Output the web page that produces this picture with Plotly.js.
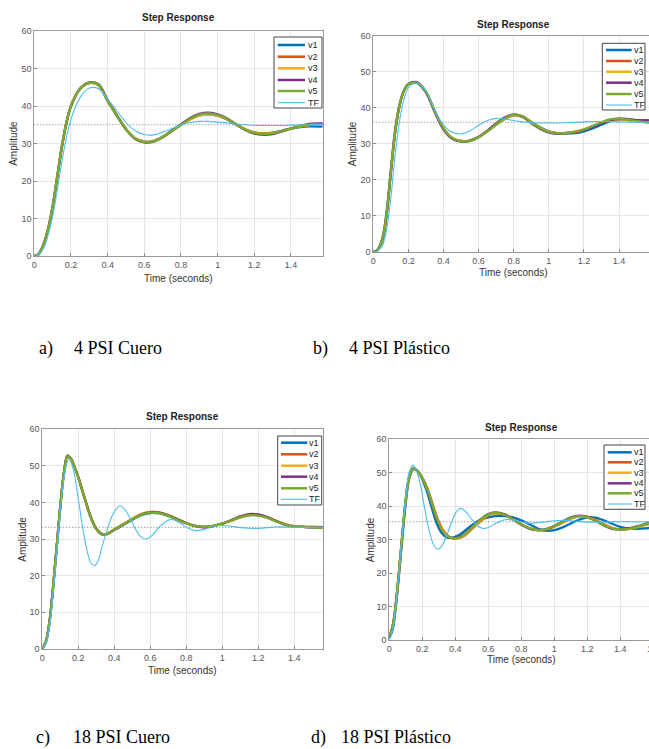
<!DOCTYPE html>
<html><head><meta charset="utf-8">
<script src="https://cdn.plot.ly/plotly-3.0.1.min.js"></script>
<style>
html,body{margin:0;padding:0;overflow:hidden;background:#fff;width:649px;height:749px}
#fig{width:660px;height:749px}
</style>
</head><body><div id="fig"></div>
<script>
// ---------- labels ----------
const seriesNames = ['v1','v2','v3','v4','v5','TF'];
const seriesColors = ['#0072BD','#D95319','#EDB120','#7E2F8E','#77AC30','#4DBEEE'];
const panelTitle = 'Step Response';
const xAxisLabel = 'Time (seconds)';
const yAxisLabel = 'Amplitude';
const captionLetters = ['a)','b)','c)','d)'];
const captionTexts = ['4 PSI Cuero','4 PSI Plástico','18 PSI Cuero','18 PSI Plástico'];
const steadyState = [35, 36, 33.2, 35.3];
const xTicks = [0,0.2,0.4,0.6,0.8,1,1.2,1.4,1.6];
const yTicks = [0,10,20,30,40,50,60];

// ---------- a) 4 PSI Cuero ----------
const tA = [0,0.02,0.05,0.075,0.1,0.125,0.15,0.175,0.2,0.25,0.3,0.35,0.4,0.45,0.5,0.55,0.6,0.65,0.7,0.75,0.8,0.85,0.9,0.95,1.0,1.05,1.1,1.15,1.2,1.25,1.3,1.35,1.4,1.45,1.5,1.573];
const aV1 = [0,0.3,3.2,7.3,13.3,21.3,29.2,35.6,40,44.6,46.1,45.5,41.3,37.4,33.8,31.4,30.5,30.7,31.8,33.4,35,36.5,37.5,37.8,37.4,36.5,35.1,33.8,33,32.7,32.9,33.4,34,34.4,34.6,34.5];
const aV2 = [0,0.3,3.1,7.2,13.2,21.2,29.2,35.6,40.1,44.7,46.2,45.6,41.4,37.5,33.8,31.3,30.4,30.6,31.7,33.3,35,36.5,37.6,37.9,37.5,36.5,35.1,33.8,32.9,32.6,32.8,33.3,34,34.6,35,35.1];
const aV3 = [0,0.3,3,7.1,13.1,21.1,29,35.5,40,44.6,46.1,45.6,41.4,37.5,33.9,31.4,30.5,30.7,31.7,33.3,34.9,36.4,37.4,37.7,37.4,36.5,35.1,33.8,32.9,32.6,32.8,33.2,33.9,34.5,34.9,35.1];
const aV4 = [0,0.3,2.9,6.9,12.9,20.8,28.8,35.3,39.9,44.6,46.3,45.8,41.6,37.6,33.8,31.2,30.3,30.5,31.7,33.4,35.1,36.8,37.9,38.2,37.8,36.7,35.1,33.6,32.6,32.3,32.5,33.2,34,34.7,35.2,35.4];
const aV5 = [0,0.3,3,7,13,21,29,35.5,40,44.6,46.2,45.7,41.4,37.5,33.8,31.3,30.4,30.6,31.7,33.3,35,36.6,37.7,38,37.6,36.6,35.1,33.7,32.8,32.5,32.7,33.3,34,34.6,35,35.2];
const tAtf = tA;
const aTF = [0,0.2,2,5.5,10.5,17.5,25,31.5,36.5,42.3,44.8,44.6,41.8,38.8,35.6,33.4,32.4,32.3,33,34,35,35.6,35.9,35.9,35.7,35.5,35.2,35,34.8,34.8,34.8,34.8,34.9,34.9,35,35];

// ---------- b) 4 PSI Plástico ----------
const tB = [0,0.02,0.05,0.075,0.1,0.125,0.15,0.175,0.2,0.235,0.25,0.3,0.35,0.4,0.45,0.5,0.55,0.6,0.65,0.7,0.75,0.8,0.85,0.9,0.95,1.0,1.05,1.1,1.15,1.2,1.25,1.3,1.35,1.4,1.45,1.5,1.55,1.6];
const bV1 = [0,0.3,3.5,10.8,22.8,34,41,44.9,46.6,47,46.9,44.3,39,34.2,31.6,30.8,30.9,31.9,33.5,35.3,36.9,37.9,37.6,36.1,34.6,33.5,33,32.9,33,33.5,34.3,35.3,36.3,36.8,36.8,36.6,36.5,36.4];
const bV2 = [0,0.2,3.2,10.3,22.3,33.8,40.9,44.8,46.6,47.1,47,44.4,39.1,34.3,31.6,30.8,30.9,31.9,33.6,35.5,37.2,38,37.5,35.9,34.4,33.4,33,33.1,33.4,34,34.9,35.9,36.6,36.9,36.7,36.4,36.2,36.1];
const bV3 = [0,0.2,3.1,10.1,22.1,33.6,40.8,44.8,46.6,47.1,47,44.5,39.2,34.4,31.7,30.8,30.9,31.9,33.6,35.4,37,37.9,37.6,36,34.5,33.4,32.9,33,33.3,33.9,34.9,35.9,36.7,36.9,36.7,36.3,36.1,36];
const bV4 = [0,0.2,2.9,9.8,21.8,33.3,40.7,44.8,46.7,47.2,47.1,44.4,38.9,34,31.4,30.6,30.8,31.9,33.7,35.7,37.4,38.2,37.6,35.8,34.2,33.1,32.8,32.9,33.2,33.8,34.7,35.7,36.6,37,36.9,36.6,36.5,36.5];
const bV5 = [0,0.2,3,10,22,33.5,40.8,44.8,46.6,47.1,47,44.5,39.2,34.3,31.6,30.7,30.8,31.8,33.5,35.4,37.1,38.1,37.7,36,34.4,33.3,32.9,33,33.3,34,35,36,36.8,37,36.7,36.3,36,35.8];
const tBtf = tB;
const bTF = [0,0.1,1.5,6,15,27,36.5,42.5,45.6,46.9,46.9,44.6,39.5,35.3,33.2,32.8,33.6,35.2,36.5,37.1,36.9,36.5,36.1,35.9,35.8,35.8,35.8,35.9,36,36.1,36.2,36.2,36.2,36.1,36.1,36.1,36.1,36.1];

// ---------- c) 18 PSI Cuero ----------
const tC = [0,0.02,0.04,0.06,0.08,0.1,0.12,0.14,0.16,0.18,0.2,0.22,0.24,0.26,0.28,0.3,0.33,0.36,0.4,0.45,0.5,0.55,0.6,0.65,0.7,0.75,0.8,0.85,0.9,0.95,1.0,1.05,1.1,1.15,1.2,1.25,1.3,1.35,1.4,1.45,1.5,1.557];
const cV1 = [0,1.8,7,16.5,27.5,38.5,47.8,52.6,51.8,49.6,46.9,43.6,40.4,37.3,34.7,32.8,31.4,31.4,32.5,33.9,35.3,36.5,37.1,37,36.3,35.3,34.3,33.6,33.4,33.6,34.2,35,35.9,36.5,36.5,35.9,34.9,34,33.5,33.3,33.2,33.1];
const cV2 = [0,2,7.4,16.9,27.9,39,48,52.8,51.9,49.6,46.9,43.6,40.4,37.3,34.7,32.8,31.3,31.4,32.6,34,35.5,36.8,37.4,37.3,36.5,35.4,34.3,33.5,33.2,33.5,34.2,35.1,36.1,36.7,36.6,35.9,34.9,33.9,33.4,33.3,33.3,33.2];
const cV3 = [0,1.9,7.3,16.8,27.8,38.9,48,52.8,51.9,49.6,46.9,43.6,40.4,37.3,34.7,32.8,31.4,31.5,32.7,34.1,35.6,36.8,37.4,37.3,36.6,35.5,34.4,33.6,33.3,33.5,34.1,35,35.9,36.5,36.5,35.9,35,34.1,33.5,33.4,33.4,33.3];
const cV4 = [0,2,7.5,17,28,39.1,48.1,52.8,51.9,49.6,46.9,43.6,40.4,37.3,34.7,32.8,31.3,31.3,32.5,33.9,35.4,36.7,37.3,37.2,36.5,35.4,34.3,33.5,33.2,33.5,34.2,35.2,36.2,36.8,36.7,36,34.9,33.9,33.4,33.3,33.2,33.2];
const cV5 = [0,2,7.5,17,28,39,48,52.7,51.8,49.5,46.8,43.5,40.3,37.2,34.6,32.7,31.3,31.4,32.6,34,35.4,36.6,37.2,37.1,36.4,35.3,34.3,33.5,33.3,33.6,34.2,35.1,36,36.5,36.4,35.8,34.8,33.9,33.4,33.3,33.2,33];
const tCtf = [0,0.02,0.04,0.06,0.08,0.1,0.12,0.147,0.17,0.2,0.225,0.25,0.27,0.29,0.31,0.33,0.36,0.39,0.43,0.46,0.5,0.54,0.576,0.61,0.65,0.71,0.76,0.8,0.85,0.9,0.95,1.0,1.05,1.1,1.2,1.3,1.4,1.5,1.557];
const cTF = [0,1.5,6,15,26,37.5,46.5,51.9,49.5,41,33,26.5,23.5,22.7,24,27.5,32.5,36.5,39.1,38,34.5,31,30,31,33.3,35.3,34.6,33.2,32.3,32.6,33.4,33.7,33.5,33.1,32.9,33.3,33.2,33.2,33.2];

// ---------- d) 18 PSI Plástico ----------
const tD = [0,0.02,0.04,0.06,0.08,0.1,0.12,0.145,0.17,0.2,0.23,0.26,0.29,0.32,0.35,0.38,0.41,0.45,0.5,0.55,0.6,0.64,0.7,0.75,0.8,0.85,0.9,0.95,1.0,1.05,1.1,1.15,1.2,1.25,1.3,1.35,1.4,1.45,1.5,1.55,1.6];
const dV1 = [0.5,3,10,20,31,41,48,51,50.5,48,44,39,34.5,31.8,30.6,30.5,31,32.3,34.3,35.8,36.6,37,37,36.6,35.7,34.5,33.3,32.6,32.8,33.6,34.8,35.9,36.6,36.5,35.7,34.7,33.8,33.3,33.2,33.3,33.6];
const dV2 = [1,4,11,21,32,42,48.5,51.3,50.6,48.5,45.3,41,36.6,33.3,31.3,30.5,30.3,31,33,35.3,37.2,37.8,37.4,36.1,34.6,33.4,32.8,32.9,33.8,35,36.2,36.9,36.8,35.9,34.6,33.5,33,33.1,33.6,34.3,35];
const dV3 = [1,4,11,21,32,42,48.5,51.3,50.6,48.4,45.1,40.7,36.3,33,31.1,30.4,30.3,31.1,33.2,35.5,37.3,37.9,37.4,36,34.5,33.3,32.8,33,33.9,35.1,36.3,36.9,36.7,35.7,34.4,33.4,33,33.1,33.7,34.4,35.1];
const dV4 = [1,4,11,21,32,42,48.5,51.3,50.5,48.3,45,40.4,35.8,32.6,30.9,30.4,30.5,31.4,33.6,35.9,37.6,38.1,37.5,36,34.4,33.2,32.8,33.1,34.1,35.4,36.6,37.1,36.7,35.6,34.2,33.2,33,33.3,33.9,34.7,35.4];
const dV5 = [1,4,11,21,32,42,48.5,51.3,50.5,48.3,45,40.5,36,32.8,31,30.4,30.4,31.3,33.5,35.8,37.5,38,37.4,36,34.5,33.3,32.8,33,34,35.3,36.5,37,36.6,35.6,34.3,33.3,33,33.2,33.8,34.5,35.2];
const tDtf = [0,0.02,0.04,0.06,0.08,0.1,0.12,0.143,0.165,0.19,0.21,0.24,0.27,0.297,0.32,0.35,0.38,0.41,0.435,0.46,0.5,0.54,0.57,0.6,0.65,0.7,0.75,0.8,0.85,0.9,0.95,1.0,1.05,1.1,1.15,1.2,1.3,1.4,1.5,1.6];
const dTF = [0,3,10,21,33,43,50,52.2,50.5,46,40.5,33,28.3,27.1,28.2,31.5,35.5,38.5,39.3,38.5,36,33.9,33.3,33.6,34.9,35.9,35.8,35.3,34.9,35,35.3,35.6,35.7,35.6,35.4,35.2,35.2,35.3,35.3,35.3];

// ---------- geometry (pixels in a 660x749 canvas) ----------
const W = 660, H = 749;
const fx = x => x / W, fy = y => 1 - y / H;
const panels = [
  {t:tA, v:[aV1,aV2,aV3,aV4,aV5], tt:tAtf, tf:aTF, box:[34.3,31,322.7,256], xmax:1.573,
   title:[178.5,18], xl:[178.5,278], yl:[13.3,143.5], cap:[38,73,348],
   leg:{box:[274,37,322,108], ys:[45,56.7,68.3,80,91,102.7], l:[277.7,305], tx:307}},
  {t:tB, v:[bV1,bV2,bV3,bV4,bV5], tt:tBtf, tf:bTF, box:[373.3,36,654.1,251.7], xmax:1.6,
   title:[513.7,24.3], xl:[513.7,272.7], yl:[353.3,143.9], cap:[312,348,348],
   leg:{box:[602.3,43.3,645,110], ys:[50,61,71.7,82.7,94,105], l:[606,631.7], tx:633}},
  {t:tC, v:[cV1,cV2,cV3,cV4,cV5], tt:tCtf, tf:cTF, box:[42.3,429.3,322.7,648.7], xmax:1.558,
   title:[182.5,416.7], xl:[182.5,670], yl:[21.7,539], cap:[35,72,737],
   leg:{box:[277.7,436,321.7,505], ys:[442.7,454.3,465.7,476.7,488.3,499.3], l:[281,307.3], tx:308.3}},
  {t:tD, v:[dV1,dV2,dV3,dV4,dV5], tt:tDtf, tf:dTF, box:[389.3,439,653.3,640], xmax:1.6,
   title:[521.3,427.7], xl:[521.3,659.3], yl:[370.7,539.5], cap:[310,340,737],
   leg:{box:[604,445,645,509.3], ys:[452.3,462.3,472.7,483.3,493.3,504], l:[607.7,631.7], tx:633.3}}
];

const FONT = 'Liberation Sans, Arial, sans-serif';
const SERIF = 'Liberation Serif, Times New Roman, serif';
const traces = [], shapes = [], annotations = [];
const layout = {
  width: W, height: H, margin:{l:0,r:0,t:0,b:0},
  paper_bgcolor:'#fff', plot_bgcolor:'#fff', showlegend:false,
  font:{family:FONT, size:9, color:'#444'}
};

panels.forEach((p, i) => {
  const k = i === 0 ? '' : String(i + 1);
  const xa = 'x' + k, ya = 'y' + k;
  const [x0, y0, x1, y1] = p.box;
  const axisCommon = {
    ticks:'inside', ticklen:3, tickcolor:'#888',
    showline:true, mirror:true, linecolor:'#9a9a9a', linewidth:1,
    showgrid:true, gridcolor:'#e6e6e6', gridwidth:1, zeroline:false,
    tickfont:{family:FONT, size:9, color:'#555'}, fixedrange:true
  };
  layout['xaxis' + k] = Object.assign({domain:[fx(x0), fx(x1)], anchor: ya, range:[0, p.xmax], tickvals: xTicks}, axisCommon);
  layout['yaxis' + k] = Object.assign({domain:[fy(y1), fy(y0)], anchor: xa, range:[0, 60], tickvals: yTicks}, axisCommon);

  // steady-state dotted line
  traces.push({x:[p.t[0], p.t[p.t.length-1]], y:[steadyState[i], steadyState[i]],
    xaxis:xa, yaxis:ya, mode:'lines', line:{color:'#777', width:1, dash:'1px,2px'}, hoverinfo:'skip'});
  // measured series
  p.v.forEach((vals, j) => {
    traces.push({x:p.t, y:vals, xaxis:xa, yaxis:ya, mode:'lines', name:seriesNames[j],
      line:{color:seriesColors[j], width:2.3, shape:'spline', smoothing:1}});
  });
  // transfer function
  traces.push({x:p.tt, y:p.tf, xaxis:xa, yaxis:ya, mode:'lines', name:seriesNames[5],
    line:{color:seriesColors[5], width:1.1, shape:'spline', smoothing:1}});

  // panel title and axis labels
  annotations.push({text:'<b>' + panelTitle + '</b>', xref:'paper', yref:'paper',
    x:fx(p.title[0]), y:fy(p.title[1]), xanchor:'center', yanchor:'middle', showarrow:false,
    font:{family:FONT, size:10, color:'#222'}});
  annotations.push({text:xAxisLabel, xref:'paper', yref:'paper',
    x:fx(p.xl[0]), y:fy(p.xl[1]), xanchor:'center', yanchor:'middle', showarrow:false,
    font:{family:FONT, size:10, color:'#333'}});
  annotations.push({text:yAxisLabel, xref:'paper', yref:'paper', textangle:-90,
    x:fx(p.yl[0]), y:fy(p.yl[1]), xanchor:'center', yanchor:'middle', showarrow:false,
    font:{family:FONT, size:10, color:'#333'}});

  // legend box
  const L = p.leg;
  shapes.push({type:'rect', xref:'paper', yref:'paper', layer:'above',
    x0:fx(L.box[0]), x1:fx(L.box[2]), y0:fy(L.box[3]), y1:fy(L.box[1]),
    fillcolor:'#fff', line:{color:'#444', width:1}});
  seriesNames.forEach((nm, j) => {
    shapes.push({type:'line', xref:'paper', yref:'paper', layer:'above',
      x0:fx(L.l[0]), x1:fx(L.l[1]), y0:fy(L.ys[j]), y1:fy(L.ys[j]),
      line:{color:seriesColors[j], width: j < 5 ? 2.5 : 1.1}});
    annotations.push({text:nm, xref:'paper', yref:'paper', x:fx(L.tx), y:fy(L.ys[j]),
      xanchor:'left', yanchor:'middle', showarrow:false, borderpad:0,
      font:{family:FONT, size:9, color:'#222'}});
  });

  // captions
  annotations.push({text:captionLetters[i], xref:'paper', yref:'paper', x:fx(p.cap[0]), y:fy(p.cap[2]),
    xanchor:'left', yanchor:'middle', showarrow:false, borderpad:0,
    font:{family:SERIF, size:18, color:'#000'}});
  annotations.push({text:captionTexts[i], xref:'paper', yref:'paper', x:fx(p.cap[1]), y:fy(p.cap[2]),
    xanchor:'left', yanchor:'middle', showarrow:false, borderpad:0,
    font:{family:SERIF, size:18, color:'#000'}});
});

layout.shapes = shapes;
layout.annotations = annotations;
Plotly.newPlot('fig', traces, layout, {staticPlot:true, displayModeBar:false});
</script>
</body></html>
